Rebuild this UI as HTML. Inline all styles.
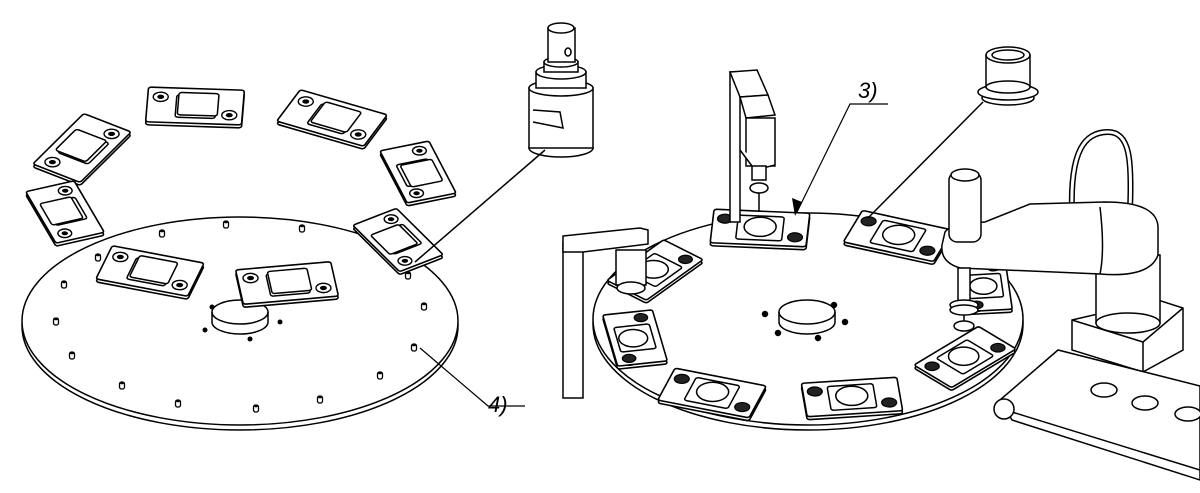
<!DOCTYPE html>
<html><head><meta charset="utf-8"><style>
html,body{margin:0;padding:0;background:#fff;width:1200px;height:493px;overflow:hidden}
svg{display:block}
text{font-family:"Liberation Sans",sans-serif;font-style:italic}
</style></head><body>
<svg width="1200" height="493" viewBox="0 0 1200 493" xmlns="http://www.w3.org/2000/svg">
<defs>
<g id="pA">
  <rect x="-48" y="-28" width="96" height="56" rx="3" fill="#fff" stroke="#000" stroke-width="1.6" vector-effect="non-scaling-stroke"/>
  <rect x="-19" y="-17" width="40" height="36" rx="3" fill="#fff" stroke="#000" stroke-width="1.5" vector-effect="non-scaling-stroke"/>
  <rect x="-17" y="-21" width="40" height="36" rx="3" fill="#fff" stroke="#000" stroke-width="1.5" vector-effect="non-scaling-stroke"/>
  <circle cx="-35" cy="-13" r="7.5" fill="#fff" stroke="#000" stroke-width="1.4" vector-effect="non-scaling-stroke"/>
  <circle cx="-35" cy="-13" r="3.5" fill="#000"/>
  <circle cx="35" cy="13" r="7.5" fill="#fff" stroke="#000" stroke-width="1.4" vector-effect="non-scaling-stroke"/>
  <circle cx="35" cy="13" r="3.5" fill="#000"/>
</g>
<g id="pB">
  <rect x="-48" y="-28" width="96" height="56" rx="3" fill="#fff" stroke="#000" stroke-width="1.6" vector-effect="non-scaling-stroke"/>
  <rect x="-23" y="-20" width="46" height="40" rx="3" fill="#fff" stroke="#000" stroke-width="1.5" vector-effect="non-scaling-stroke"/>
  <circle cx="0" cy="-2" r="16" fill="#fff" stroke="#000" stroke-width="1.5" vector-effect="non-scaling-stroke"/>
  <circle cx="-36" cy="-13" r="7.5" fill="#222" stroke="#000" stroke-width="1.2" vector-effect="non-scaling-stroke"/>
  <circle cx="36" cy="13" r="7.5" fill="#222" stroke="#000" stroke-width="1.2" vector-effect="non-scaling-stroke"/>
</g>
<g id="pin"><rect x="-2.5" y="-4" width="5" height="7" rx="2" fill="#fff" stroke="#000" stroke-width="1.3"/><ellipse cx="0" cy="-3" rx="2" ry="1.3" fill="#000"/></g>
</defs>
<!-- left disc -->
<g fill="none" stroke="#000" stroke-width="1.5">
<ellipse cx="240" cy="326" rx="218" ry="104"/>
<ellipse cx="240" cy="321" rx="218" ry="104" fill="#fff"/>
<ellipse cx="240" cy="312" rx="28" ry="12" fill="#fff"/>
<path d="M212 312 v10 a28 12 0 0 0 56 0 v-10"/>
</g>
<g>
<use href="#pin" x="226" y="225"/><use href="#pin" x="302" y="229"/><use href="#pin" x="162" y="234"/>
<use href="#pin" x="98" y="258"/><use href="#pin" x="64" y="285"/><use href="#pin" x="56" y="322"/>
<use href="#pin" x="72" y="356"/><use href="#pin" x="122" y="386"/><use href="#pin" x="178" y="404"/>
<use href="#pin" x="256" y="409"/><use href="#pin" x="320" y="400"/><use href="#pin" x="380" y="376"/>
<use href="#pin" x="414" y="348"/><use href="#pin" x="424" y="307"/><use href="#pin" x="408" y="276"/>
<circle cx="212" cy="307" r="2.5"/><circle cx="280" cy="322" r="2.5"/><circle cx="205" cy="330" r="2.5"/><circle cx="250" cy="339" r="2.5"/>
</g>
<g>
<use href="#pA" transform="translate(195,109) scale(1,0.62) rotate(3)"/><use href="#pA" transform="translate(195,106) scale(1,0.62) rotate(3)"/>
<use href="#pA" transform="translate(332,121) scale(1,0.62) rotate(25)"/><use href="#pA" transform="translate(332,118) scale(1,0.62) rotate(25)"/>
<use href="#pA" transform="translate(82,151) scale(1,0.62) rotate(-58)"/><use href="#pA" transform="translate(82,148) scale(1,0.62) rotate(-58)"/>
<use href="#pA" transform="translate(418,175) scale(1,0.62) rotate(72) scale(0.92)"/><use href="#pA" transform="translate(418,172) scale(1,0.62) rotate(72) scale(0.92)"/>
<use href="#pA" transform="translate(65,215) scale(1,0.62) rotate(-110) scale(0.92)"/><use href="#pA" transform="translate(65,212) scale(1,0.62) rotate(-110) scale(0.92)"/>
<use href="#pA" transform="translate(398,243) scale(1,0.62) rotate(-122) scale(0.92)"/><use href="#pA" transform="translate(398,240) scale(1,0.62) rotate(-122) scale(0.92)"/>
<use href="#pA" transform="translate(150,274) scale(1,0.62) rotate(17)"/><use href="#pA" transform="translate(150,271) scale(1,0.62) rotate(17)"/>
<use href="#pA" transform="translate(287,286) scale(1,0.62) rotate(-8)"/><use href="#pA" transform="translate(287,283) scale(1,0.62) rotate(-8)"/>
</g>
<!-- left tool -->
<g fill="#fff" stroke="#000" stroke-width="1.5">
<ellipse cx="561" cy="148" rx="32" ry="9"/>
<rect x="529" y="88" width="64" height="60"/>
<ellipse cx="561" cy="88" rx="32" ry="8"/>
<rect x="536" y="72" width="50" height="16"/>
<ellipse cx="561" cy="72" rx="25" ry="7"/>
<rect x="544" y="62" width="34" height="10"/>
<ellipse cx="561" cy="62" rx="17" ry="5"/>
<rect x="548" y="28" width="27" height="34"/>
<ellipse cx="561" cy="28" rx="13" ry="5"/>
<ellipse cx="568" cy="52" rx="3" ry="4"/>
<path d="M533 110 L560 112 L563 128 L533 122" fill="none"/>
<line x1="545" y1="150" x2="415" y2="262"/>
</g>
<text x="488" y="412" font-size="22">4)</text>
<path d="M420 348 L488 406 L525 406" fill="none" stroke="#000" stroke-width="1.2"/>
<!-- right disc -->
<g fill="none" stroke="#000" stroke-width="1.5">
<ellipse cx="808" cy="324" rx="215" ry="106"/>
<ellipse cx="808" cy="319" rx="215" ry="106" fill="#fff"/>
<ellipse cx="807" cy="312" rx="28" ry="12" fill="#fff"/>
<path d="M779 312 v10 a28 12 0 0 0 56 0 v-10"/>
<circle cx="765" cy="314" r="2.5" fill="#000"/><circle cx="834" cy="305" r="2.5" fill="#000"/><circle cx="818" cy="338" r="2.5" fill="#000"/><circle cx="778" cy="333" r="2.5" fill="#000"/><circle cx="845" cy="322" r="2.5" fill="#000"/>
</g>
<g>
<use href="#pB" transform="translate(760,231) scale(1,0.6) rotate(4)"/><use href="#pB" transform="translate(760,228) scale(1,0.6) rotate(4)"/>
<use href="#pB" transform="translate(898,239) scale(1,0.6) rotate(20)"/><use href="#pB" transform="translate(898,236) scale(1,0.6) rotate(20)"/>
<use href="#pB" transform="translate(655,273) scale(1,0.6) rotate(-50) scale(0.92)"/><use href="#pB" transform="translate(655,270) scale(1,0.6) rotate(-50) scale(0.92)"/>
<use href="#pB" transform="translate(635,341) scale(1,0.6) rotate(-100) scale(0.9)"/><use href="#pB" transform="translate(635,338) scale(1,0.6) rotate(-100) scale(0.9)"/>
<use href="#pB" transform="translate(712,396) scale(1,0.6) rotate(18)"/><use href="#pB" transform="translate(712,393) scale(1,0.6) rotate(18)"/>
<use href="#pB" transform="translate(852,400) scale(1,0.6) rotate(-6)"/><use href="#pB" transform="translate(852,397) scale(1,0.6) rotate(-6)"/>
<use href="#pB" transform="translate(965,360) scale(1,0.6) rotate(-45) scale(0.95)"/><use href="#pB" transform="translate(965,357) scale(1,0.6) rotate(-45) scale(0.95)"/>
<use href="#pB" transform="translate(985,289) scale(1,0.6) rotate(-95) scale(0.85)"/><use href="#pB" transform="translate(985,286) scale(1,0.6) rotate(-95) scale(0.85)"/>
</g>
<!-- stands -->
<g fill="#fff" stroke="#000" stroke-width="1.5">
<rect x="730" y="72" width="10" height="150"/>
<polygon points="730,72 757,70 768,95 740,97"/>
<polygon points="740,97 768,95 775,115 746,118"/>
<rect x="746" y="118" width="29" height="48"/>
<path d="M740 150 L755 170 L775 165"/>
<rect x="752" y="166" width="14" height="14"/>
<ellipse cx="759" cy="188" rx="9" ry="5"/>
<line x1="759" y1="193" x2="759" y2="212"/>
<rect x="563" y="243" width="20" height="155"/>
<polygon points="563,236 640,228 648,230 648,244 583,252 563,252"/>
<rect x="616" y="250" width="30" height="35"/>
<ellipse cx="631" cy="288" rx="14" ry="6"/>
</g>
<!-- right tool -->
<g fill="#fff" stroke="#000" stroke-width="1.5">
<ellipse cx="1008" cy="98" rx="26" ry="7"/>
<ellipse cx="1008" cy="92" rx="30" ry="8"/>
<rect x="986" y="55" width="44" height="32"/>
<ellipse cx="1008" cy="87" rx="22" ry="6"/>
<ellipse cx="1008" cy="55" rx="22" ry="8"/>
<ellipse cx="1008" cy="55" rx="16" ry="5"/>
<line x1="983" y1="102" x2="868" y2="218"/>
</g>
<text x="858" y="98" font-size="22">3)</text>
<path d="M797 212 L850 104 L888 104" fill="none" stroke="#000" stroke-width="1.2"/>
<polygon points="795,216 792,198 802,202" fill="#000"/>
<!-- robot -->
<g fill="#fff" stroke="#000" stroke-width="1.5">
<polygon points="1072,320 1158,300 1183,308 1183,350 1143,372 1072,350"/>
<polyline points="1072,320 1143,342 1183,308" fill="none"/>
<line x1="1143" y1="342" x2="1143" y2="372"/>
<rect x="1096" y="255" width="64" height="68"/>
<ellipse cx="1128" cy="323" rx="32" ry="10"/>
<path d="M1072 212 C1070 150,1085 132,1108 132 C1130 132,1132 160,1130 210" fill="none" stroke-width="6"/>
<path d="M1072 212 C1070 150,1085 132,1108 132 C1130 132,1132 160,1130 210" fill="none" stroke="#fff" stroke-width="3"/>
<path d="M945 232 Q950 224 985 222 L1030 204 L1105 202 Q1160 202 1158 230 L1158 255 Q1150 278 1100 274 L960 268 Q940 262 942 245 Z"/>
<path d="M1100 207 Q1105 250 1100 274" fill="none"/>
<rect x="949" y="172" width="32" height="70" rx="8"/>
<ellipse cx="965" cy="175" rx="14" ry="6"/>
<rect x="958" y="268" width="12" height="38"/>
<ellipse cx="964" cy="305" rx="14" ry="5"/>
<ellipse cx="964" cy="310" rx="14" ry="5"/>
<line x1="964" y1="315" x2="964" y2="322"/>
<ellipse cx="964" cy="326" rx="10" ry="5"/>
<!-- conveyor -->
<polygon points="1000,400 1058,350 1200,386 1200,480 1012,420"/>
<line x1="1012" y1="412" x2="1200" y2="470"/>
<circle cx="1004" cy="409" r="10"/>
<ellipse cx="1104" cy="390" rx="13" ry="7"/>
<ellipse cx="1145" cy="403" rx="13" ry="7"/>
<ellipse cx="1188" cy="414" rx="13" ry="7"/>
</g>
</svg>
</body></html>
